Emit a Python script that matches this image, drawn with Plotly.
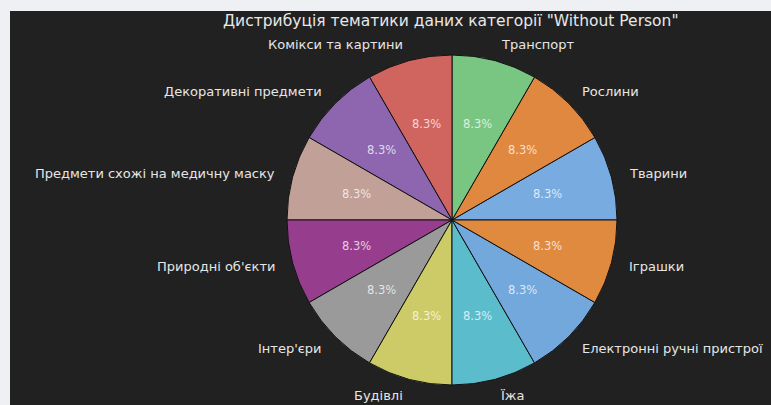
import math
import plotly.graph_objects as go

# Categories in drawing order (counter-clockwise from 3 o'clock)
categories = [
    "Тварини",
    "Рослини",
    "Транспорт",
    "Комікси та картини",
    "Декоративні предмети",
    "Предмети схожі на медичну маску",
    "Природні об'єкти",
    "Інтер'єри",
    "Будівлі",
    "Їжа",
    "Електронні ручні пристрої",
    "Іграшки",
]
counts = [1, 1, 1, 1, 1, 1, 1, 1, 1, 1, 1, 1]
slice_colors = [
    "#78ace0", "#e0883f", "#78c682", "#cf655e", "#8e66b0", "#c0a097",
    "#963e8d", "#9a9a9a", "#cccb68", "#5bbccc", "#72a8dc", "#e08a40",
]
title_text = 'Дистрибуція тематики даних категорії "Without Person"'

W, H = 771, 405
CX, CY = 452, 185          # pie centre in px (y measured from bottom)
R = 165                    # pie radius in px
BG = "#212121"
FONT = "DejaVu Sans, sans-serif"

fig = go.Figure()
fig.add_trace(go.Pie(
    labels=categories,
    values=counts,
    sort=False,
    direction="counterclockwise",
    rotation=60,
    marker=dict(colors=slice_colors, line=dict(color="#111111", width=1)),
    textinfo="none",
    hoverinfo="label+percent",
    showlegend=False,
    domain=dict(x=[(CX - R) / W, (CX + R) / W], y=[(CY - R) / H, (CY + R) / H]),
))

# Outer category labels and inner percentage labels placed along each slice's mid-angle
total = sum(counts)
cum = 0
annotations = []
for name, v in zip(categories, counts):
    mid = math.radians(360.0 * (cum + v / 2) / total)
    cum += v
    cx, cy = math.cos(mid), math.sin(mid)
    lx = CX + 1.1 * R * cx
    ly = CY + 1.1 * R * cy
    annotations.append(dict(
        x=lx / W, y=ly / H, xref="paper", yref="paper",
        text=name, showarrow=False,
        xanchor="left" if cx > 1e-9 else "right", yanchor="middle",
        font=dict(family=FONT, size=13, color="#e6e6e6"),
    ))
    px = CX + 0.6 * R * cx
    py = CY + 0.6 * R * cy
    annotations.append(dict(
        x=px / W, y=py / H, xref="paper", yref="paper",
        text=f"{100.0 * v / total:.1f}%", showarrow=False,
        xanchor="center", yanchor="middle",
        font=dict(family=FONT, size=11.5, color="rgba(255,255,255,0.75)"),
    ))

annotations.append(dict(
    x=451 / W, y=(H - 21) / H, xref="paper", yref="paper",
    text=title_text, showarrow=False, xanchor="center", yanchor="middle",
    font=dict(family=FONT, size=15.5, color="#e8e8e8"),
))

fig.update_layout(
    width=W, height=H,
    margin=dict(l=0, r=0, t=0, b=0),
    paper_bgcolor="#eef0f3",
    plot_bgcolor=BG,
    annotations=annotations,
    shapes=[dict(
        type="rect", xref="paper", yref="paper",
        x0=10 / W, x1=1.0, y0=0.0, y1=(H - 11) / H,
        fillcolor=BG, line=dict(width=0), layer="below",
    )],
)

fig.write_html("out.html")
